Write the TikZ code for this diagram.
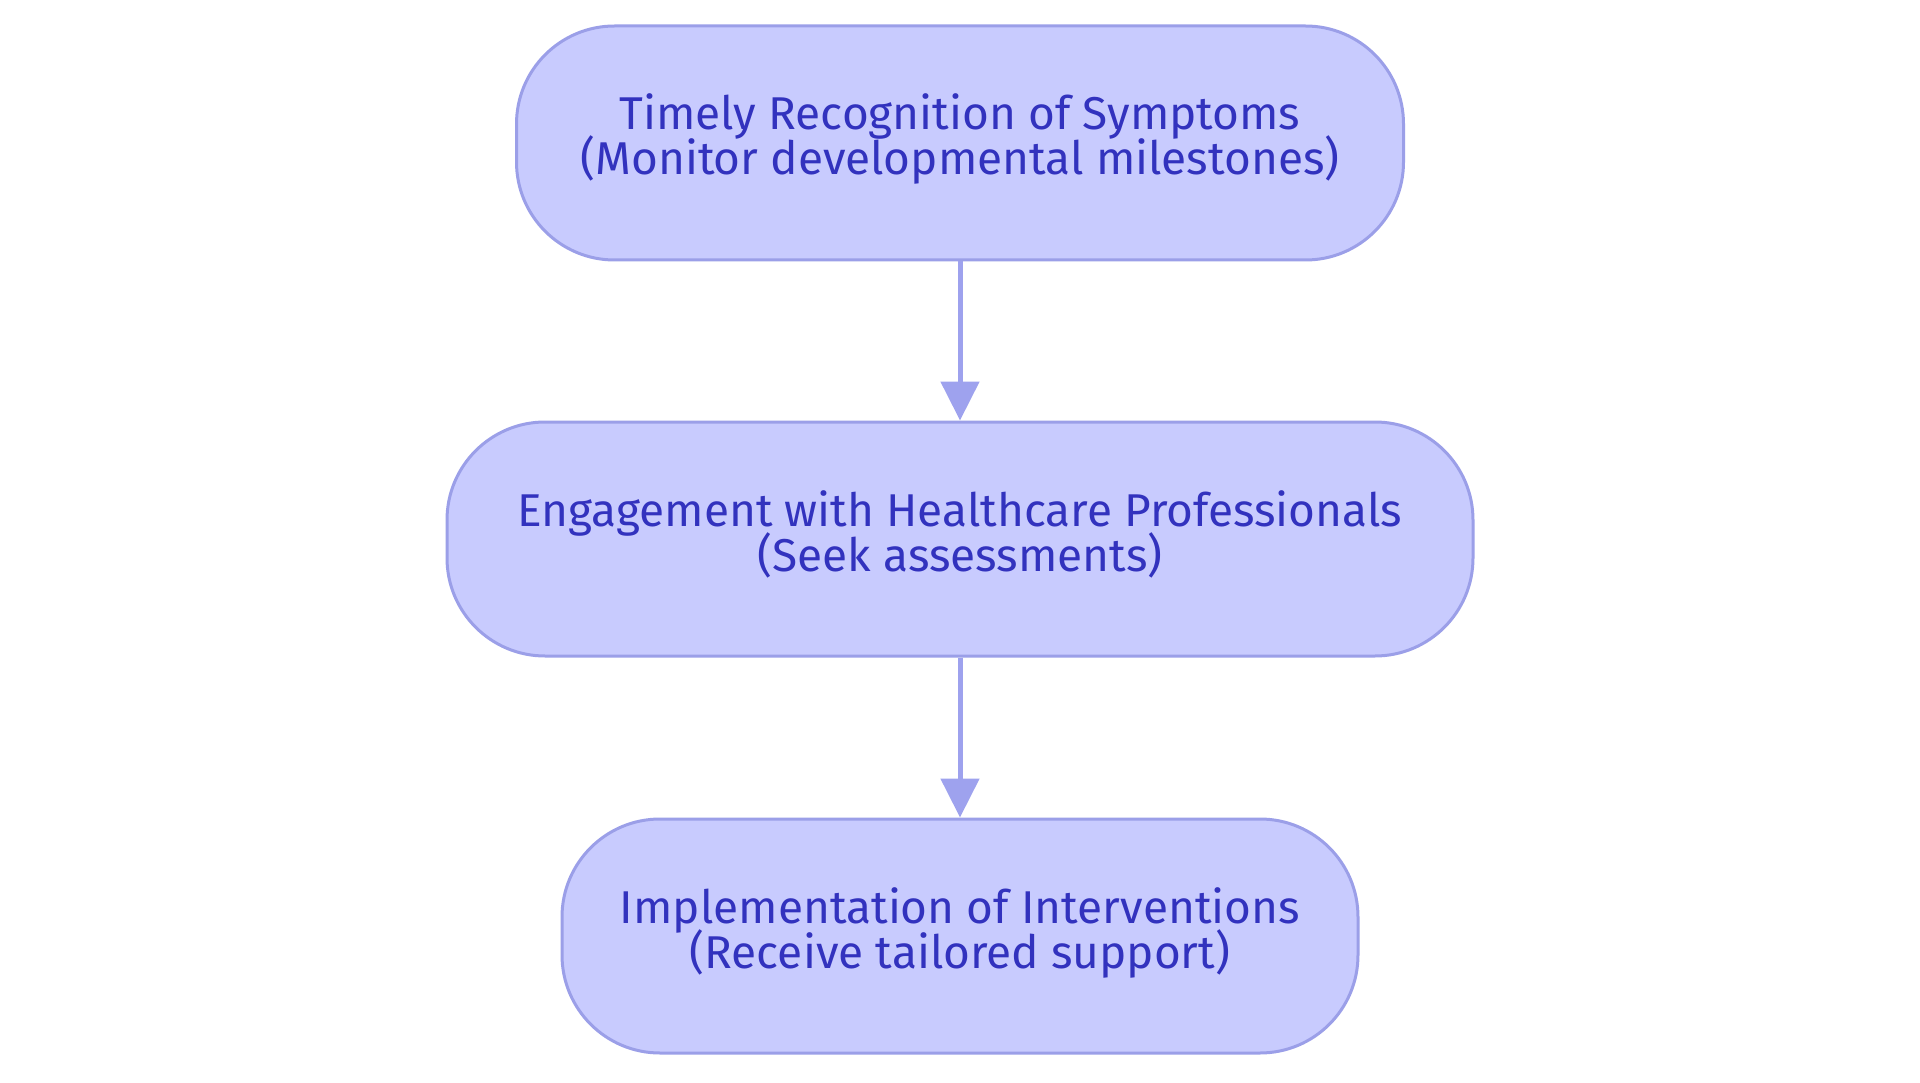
\documentclass[tikz,border=0pt]{standalone}
\usepackage{fontspec}
\setmainfont{Fira Sans}
\usetikzlibrary{arrows.meta}
\definecolor{boxfill}{RGB}{200,203,254}
\definecolor{boxdraw}{RGB}{155,159,232}
\definecolor{boxtext}{RGB}{50,50,190}
\definecolor{arrowcol}{RGB}{158,162,238}
\newcommand{\boxfont}{\fontsize{46pt}{45pt}\selectfont\lineskiplimit=-50pt\relax\lineskip=0pt\relax}
\tikzset{
  stepbox/.style={draw=boxdraw, fill=boxfill, line width=3pt, rounded corners=98pt,
    minimum height=234pt, text=boxtext, align=center, inner sep=0pt,
    text height=80pt, text depth=16pt, font=\boxfont},
  flowarrow/.style={draw=arrowcol, line width=5pt, -{Triangle[width=38pt,length=39pt]}}
}
\begin{document}
\begin{tikzpicture}[x=1pt,y=-1pt]
\useasboundingbox (0,0) rectangle (1920,1083);
\fill[white] (0,0) rectangle (1920,1083);
\node[stepbox, minimum width=887pt] (b1) at (960,143) {Timely Recognition of Symptoms\\(Monitor developmental milestones)};
\node[stepbox, minimum width=1026pt] (b2) at (960,539) {Engagement with Healthcare Professionals\\(Seek assessments)};
\node[stepbox, minimum width=796pt] (b3) at (960,936) {Implementation of Interventions\\(Receive tailored support)};
\draw[flowarrow] (b1.south) -- (b2.north);
\draw[flowarrow] (b2.south) -- (b3.north);
\end{tikzpicture}
\end{document}
